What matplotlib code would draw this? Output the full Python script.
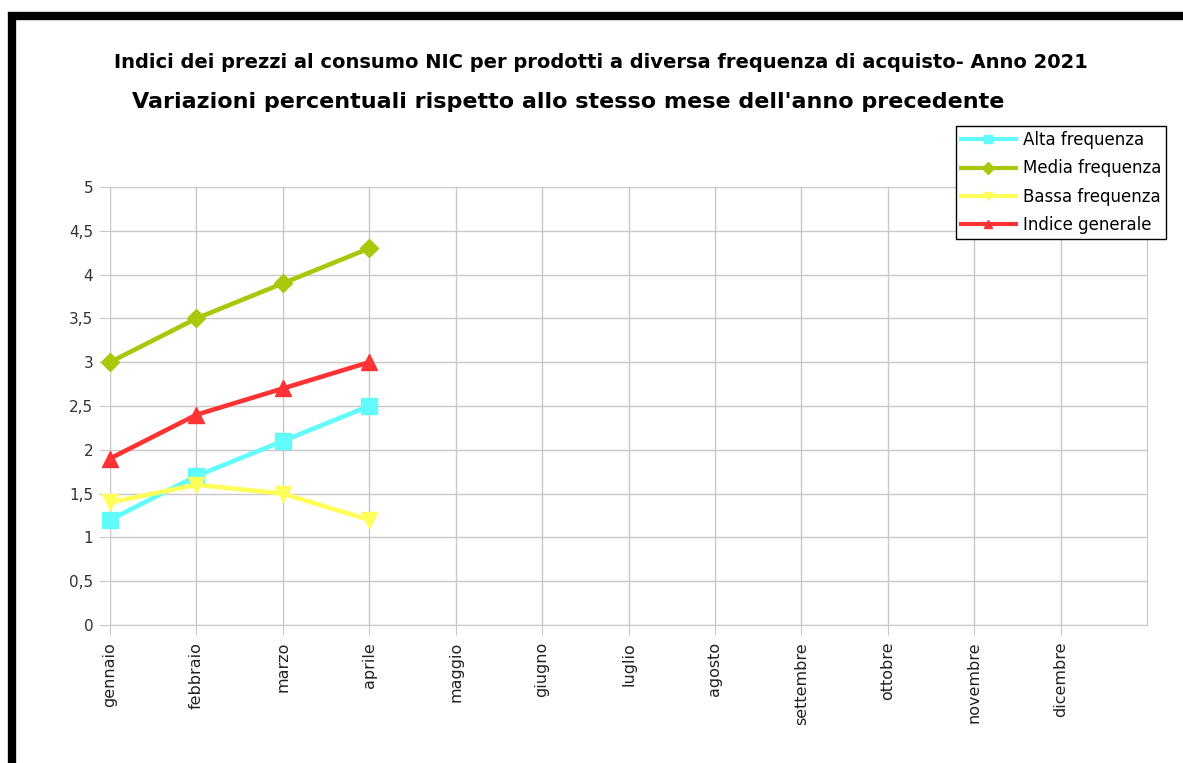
import matplotlib
matplotlib.use("Agg")
import matplotlib.pyplot as plt
from matplotlib.lines import Line2D
from matplotlib.ticker import FuncFormatter

plt.rcParams["font.family"] = ["DejaVu Sans"]

mesi = ["gennaio", "febbraio", "marzo", "aprile", "maggio", "giugno", "luglio",
        "agosto", "settembre", "ottobre", "novembre", "dicembre"]

alta = [1.2, 1.7, 2.1, 2.5]
media = [3.0, 3.5, 3.9, 4.3]
bassa = [1.4, 1.6, 1.5, 1.2]
indice = [1.9, 2.4, 2.7, 3.0]

serie = [
    ("Alta frequenza", alta, "#62fbfb", "s", 11),
    ("Media frequenza", media, "#a8c80c", "D", 9),
    ("Bassa frequenza", bassa, "#ffff5a", "v", 12),
    ("Indice generale", indice, "#ff3333", "^", 12),
]

W, H = 1183, 763
fig = plt.figure(figsize=(W / 100, H / 100), dpi=100)
ax = fig.add_axes([110 / W, 1 - 625 / H, (1147 - 110) / W, (625 - 187) / H])

for nome, vals, col, mk, ms in serie:
    ax.plot(range(len(vals)), vals, color=col, linewidth=3.3, marker=mk,
            markersize=ms, label=nome, zorder=3, clip_on=False)

ax.set_xlim(0, 12)
ax.set_ylim(0, 5)
ax.set_yticks([i * 0.5 for i in range(11)])
ax.yaxis.set_major_formatter(FuncFormatter(lambda v, p: f"{v:g}".replace(".", ",")))
ax.set_xticks(range(len(mesi)))
ax.set_xticklabels(mesi, rotation=90, va="top", ha="center")

grid_col = "#c8c8c8"
ax.grid(True, color=grid_col, linewidth=1)
ax.set_axisbelow(True)
for s in ["top", "left"]:
    ax.spines[s].set_visible(False)
ax.spines["bottom"].set_color(grid_col)
ax.spines["right"].set_color(grid_col)
ax.tick_params(axis="x", length=7.2, color=grid_col, labelsize=11.5, pad=5,
               labelcolor="#222222")
ax.tick_params(axis="y", length=8, color=grid_col, labelsize=11, pad=4,
               labelcolor="#333333")

fig.text(601 / W, 1 - 62 / H,
         "Indici dei prezzi al consumo NIC per prodotti a diversa frequenza di acquisto- Anno 2021",
         ha="center", va="center", fontsize=14, fontweight="bold")
fig.text(568 / W, 1 - 102 / H,
         "Variazioni percentuali rispetto allo stesso mese dell'anno precedente",
         ha="center", va="center", fontsize=16, fontweight="bold")

handles = [Line2D([0], [0], color=c, linewidth=3, marker=m, markersize=6)
           for _, _, c, m, _ in serie]
leg = fig.legend(handles, [s[0] for s in serie], loc="upper right",
                 bbox_to_anchor=(1166 / W, 1 - 126 / H), fontsize=12,
                 fancybox=False, edgecolor="black", framealpha=1,
                 handlelength=3.3, handletextpad=0.4, borderaxespad=0,
                 borderpad=0.3, labelspacing=0.62)
leg.get_frame().set_linewidth(1)

# cornice nera in alto e a sinistra
fig.add_artist(Line2D([8 / W, 1], [1 - 16 / H, 1 - 16 / H], color="black", linewidth=6,
                      solid_capstyle="butt"))
fig.add_artist(Line2D([12 / W, 12 / W], [1 - 12 / H, 0], color="black", linewidth=6,
                      solid_capstyle="butt"))

fig.savefig("out.png", dpi=100)
